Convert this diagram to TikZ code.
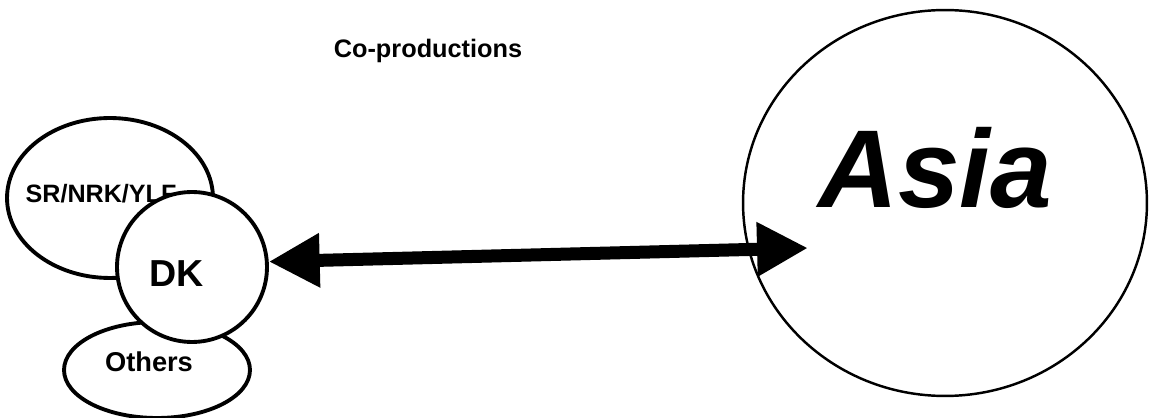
\documentclass[tikz,border=0pt]{standalone}
\usepackage{fontspec}
\setmainfont{Liberation Sans}
\usetikzlibrary{arrows.meta,shapes.geometric}

\begin{document}
\begin{tikzpicture}[x=0.02cm,y=-0.02cm,
  blob/.style={ellipse,draw,line width=2.2pt,fill=white,inner sep=0pt},
  lbl/.style={inner sep=0pt,anchor=base},
  bigtip/.tip={Triangle[length=29pt,width=29pt]}]
\useasboundingbox (0,0) rectangle (1150,418);
\node[lbl,font=\bfseries\fontsize{14.4}{16}\selectfont] (title) at (428,58) {Co-productions};
% nordic partners round DK
\node[blob,minimum width=4.12cm,minimum height=3.2cm] (nordic) at (110,198) {};
\node[lbl,font=\bfseries\fontsize{14.3}{16}\selectfont] (nordictxt) at (101,203) {SR/NRK/YLF};
\node[blob,minimum width=3.72cm,minimum height=1.92cm] (others) at (157,370) {};
\node[lbl,font=\bfseries\fontsize{15.5}{17}\selectfont] (otherstxt) at (149,372) {Others};
\node[blob,circle,minimum size=3cm] (dk) at (192,267) {};
\node[lbl,font=\bfseries\fontsize{21.4}{24}\selectfont] (dktxt) at (177,287) {DK};
% Asia
\node[blob,line width=1.4pt,minimum width=8.08cm,minimum height=7.72cm] (asia) at (945,203) {};
\node[lbl,font=\bfseries\itshape\fontsize{63}{70}\selectfont] (asiatxt) at (935,208) {Asia};
\coordinate (asiatip) at (808,248);
\draw[line width=7.4pt,bigtip-bigtip] (dk.4) -- (asiatip);
\end{tikzpicture}
\end{document}
